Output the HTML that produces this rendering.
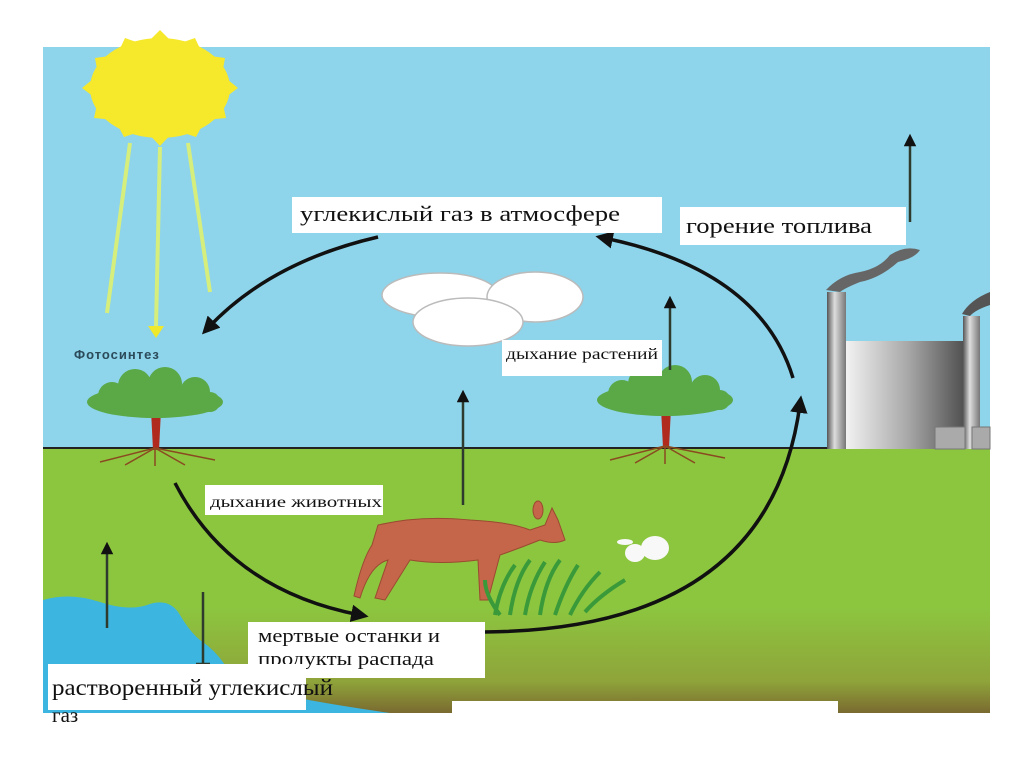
<!DOCTYPE html>
<html><head><meta charset="utf-8"><style>
body{margin:0;background:#fff;width:1024px;height:767px;overflow:hidden}
svg{display:block}
.s{font-family:"Liberation Serif","Noto Serif CJK SC",serif;fill:#111}
</style></head><body>
<svg width="1024" height="767" viewBox="0 0 1024 767">
<defs>
<linearGradient id="gr" x1="0" y1="0" x2="0" y2="1">
<stop offset="0" stop-color="#8cc63f"/><stop offset="0.6" stop-color="#8cc63f"/><stop offset="0.88" stop-color="#8fa43a"/><stop offset="1" stop-color="#7a6a30"/></linearGradient>
<linearGradient id="tk" x1="0" y1="0" x2="1" y2="0">
<stop offset="0" stop-color="#f4f4f4"/><stop offset="0.5" stop-color="#a8a8a8"/><stop offset="1" stop-color="#444"/></linearGradient>
<linearGradient id="ch" x1="0" y1="0" x2="1" y2="0">
<stop offset="0" stop-color="#555"/><stop offset="0.4" stop-color="#ddd"/><stop offset="1" stop-color="#777"/></linearGradient>
<marker id="a" viewBox="0 0 10 10" refX="5" refY="5" markerWidth="5" markerHeight="5" orient="auto"><path d="M0,0 L10,5 L0,10z" fill="#111"/></marker>
</defs>
<rect x="43" y="47" width="947" height="401" fill="#8ed4ea"/>
<rect x="43" y="448" width="947" height="265" fill="url(#gr)"/>
<line x1="43" y1="448" x2="990" y2="448" stroke="#222" stroke-width="2"/>
<path d="M43,600 Q70,592 100,602 Q130,612 150,604 Q170,598 180,615 Q190,632 200,640 Q215,650 225,665 Q240,680 262,690 Q300,700 390,713 L43,713z" fill="#3cb5e0"/>
<g fill="#f6e82a">
<ellipse cx="160" cy="88" rx="70" ry="50"/>
<polygon points="160,30 175,45 195,38 203,55 225,58 222,75 238,88 222,100 226,118 205,120 196,137 175,130 160,146 145,130 124,137 115,120 94,118 98,100 82,88 98,75 95,58 117,55 125,38 145,45"/>
</g>
<g stroke="#d6ee7c" stroke-width="4">
<line x1="130" y1="143" x2="107" y2="313"/><line x1="160" y1="147" x2="156" y2="326"/><line x1="188" y1="143" x2="210" y2="292"/>
</g>
<path d="M148,326 L164,326 L156,338z" fill="#f0e82a"/>
<text x="74" y="359" font-family="Liberation Sans,sans-serif" font-weight="bold" font-size="13" fill="#2b4a5a" letter-spacing="1">Фотосинтез</text>
<g id="t1">
<path d="M151,410 L153,450 L159,450 L161,410z" fill="#b02a1e"/>
<g stroke="#8a4a20" stroke-width="1.5" fill="none"><path d="M155,448 L100,462 M155,448 L125,465 M155,448 L185,465 M155,448 L215,460 M155,448 L155,466"/></g>
<g fill="#5aa846"><ellipse cx="155" cy="402" rx="68" ry="16"/><circle cx="112" cy="396" r="14"/><circle cx="135" cy="386" r="17"/><circle cx="165" cy="384" r="17"/><circle cx="195" cy="392" r="15"/><circle cx="210" cy="402" r="10"/></g>
</g>
<use href="#t1" x="510" y="-2"/>
<g fill="#fff" stroke="#bbb" stroke-width="1.5">
<ellipse cx="440" cy="295" rx="58" ry="22"/><ellipse cx="535" cy="297" rx="48" ry="25"/><ellipse cx="468" cy="322" rx="55" ry="24"/>
</g>
<rect x="844" y="341" width="128" height="108" fill="url(#tk)"/>
<rect x="827" y="292" width="19" height="157" fill="url(#ch)"/>
<rect x="963" y="316" width="17" height="133" fill="url(#ch)"/>
<rect x="935" y="427" width="30" height="22" fill="#aaa" stroke="#777"/><rect x="972" y="427" width="18" height="22" fill="#aaa" stroke="#777"/>
<path d="M826,290 Q840,275 860,272 Q880,268 890,255 Q905,245 920,250 Q915,258 898,262 Q880,278 860,282 Q845,288 840,292z" fill="#666"/>
<path d="M962,314 Q970,300 990,292 L990,305 Q975,310 970,316z" fill="#555"/>
<g fill="none" stroke="#111" stroke-width="3.5">
<path d="M378,237 Q270,262 208,328" marker-end="url(#a)"/>
<path d="M793,378 Q760,270 604,238" marker-end="url(#a)"/>
<path d="M175,483 Q230,590 360,615" marker-end="url(#a)"/>
<path d="M484,632 Q770,630 800,404" marker-end="url(#a)"/>
</g>
<g stroke="#2d3a2d" stroke-width="2.5" fill="none">
<line x1="910" y1="222" x2="910" y2="140" marker-end="url(#a)"/>
<line x1="670" y1="370" x2="670" y2="302" marker-end="url(#a)"/>
<line x1="463" y1="505" x2="463" y2="396" marker-end="url(#a)"/>
<line x1="107" y1="628" x2="107" y2="548" marker-end="url(#a)"/>
<line x1="203" y1="592" x2="203" y2="664"/><line x1="196" y1="664" x2="210" y2="664"/>
</g>
<g fill="#c5664a" stroke="#9a4a30" stroke-width="1">
<path d="M378,525 Q420,515 470,520 Q510,522 530,530 L545,525 L552,508 L558,520 L565,540 Q555,545 540,540 Q520,548 500,555 L488,600 L480,600 L478,560 Q440,565 410,560 L385,600 L375,598 L388,560 Q370,565 360,598 L354,596 Q362,560 372,545z"/>
<ellipse cx="538" cy="510" rx="5" ry="9"/>
</g>
<g stroke="#3a9a3a" stroke-width="4" fill="none">
<path d="M495,615 Q500,585 515,565 M510,615 Q515,580 530,560 M525,615 Q530,585 545,562 M540,615 Q545,580 560,560 M555,615 Q565,585 578,565 M570,615 Q582,590 600,572 M585,612 Q600,595 625,580 M500,615 Q485,595 485,580"/>
</g>
<g fill="#f8f8f8"><ellipse cx="655" cy="548" rx="14" ry="12"/><ellipse cx="635" cy="553" rx="10" ry="9"/><ellipse cx="625" cy="542" rx="8" ry="3"/></g>
<rect x="292" y="197" width="370" height="36" fill="#fff"/>
<text class="s" x="300" y="221" font-size="22" textLength="320" lengthAdjust="spacingAndGlyphs">углекислый газ в атмосфере</text>
<rect x="680" y="207" width="226" height="38" fill="#fff"/>
<text class="s" x="686" y="233" font-size="22" textLength="186" lengthAdjust="spacingAndGlyphs">горение топлива</text>
<rect x="502" y="340" width="160" height="36" fill="#fff"/>
<text class="s" x="506" y="359" font-size="16" textLength="152" lengthAdjust="spacingAndGlyphs">дыхание растений</text>
<rect x="205" y="485" width="178" height="30" fill="#fff"/>
<text class="s" x="210" y="507" font-size="16" textLength="172" lengthAdjust="spacingAndGlyphs">дыхание животных</text>
<rect x="248" y="622" width="237" height="56" fill="#fff"/>
<text class="s" x="258" y="642" font-size="19" textLength="182" lengthAdjust="spacingAndGlyphs">мертвые останки и</text>
<text class="s" x="258" y="665" font-size="19" textLength="176" lengthAdjust="spacingAndGlyphs">продукты распада</text>
<rect x="48" y="664" width="258" height="46" fill="#fff"/>
<rect x="452" y="701" width="386" height="12" fill="#fff"/>
<text class="s" x="52" y="695" font-size="23" textLength="281" lengthAdjust="spacingAndGlyphs">растворенный углекислый</text>
<text class="s" x="52" y="722" font-size="21">газ</text>
</svg>
</body></html>
